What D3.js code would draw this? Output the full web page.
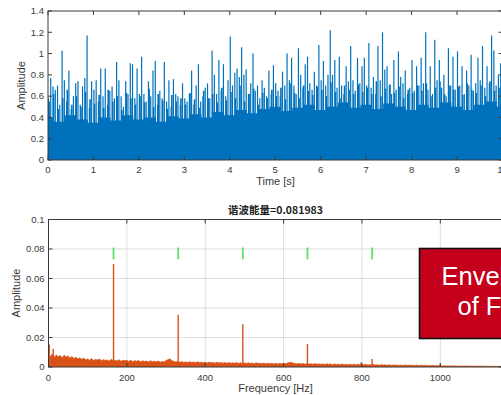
<!DOCTYPE html>
<html><head><meta charset="utf-8">
<script src="https://cdn.jsdelivr.net/npm/d3@7/dist/d3.min.js"></script>
<style>
html,body{margin:0;padding:0;background:#fff;overflow:hidden;}
svg{display:block;font-family:"Liberation Sans",Arial,sans-serif;}
</style></head>
<body><svg id="c" width="501" height="395"></svg>
<script>
// ---------------- DATA ----------------
// Top panel: time signal (peak amplitude per 0.05 s bin, 0..10 s)
const sigStep = 0.05;
const sigPeaks = [
 0.58,0.77,0.69,0.66,0.70,0.52,1.03,0.75,0.55,0.84,0.48,0.60,0.72,0.74,0.52,0.69,0.77,1.17,0.49,0.74,
 0.66,0.75,0.55,0.86,0.60,0.86,0.52,0.65,0.69,0.58,0.92,0.75,0.60,0.50,0.74,0.62,0.91,0.90,0.58,0.86,
 0.62,0.97,0.62,0.55,0.74,0.60,0.84,0.93,0.52,0.65,0.58,0.92,0.55,0.75,0.50,0.76,0.62,0.60,0.52,0.72,
 0.58,0.55,0.62,0.84,0.52,0.70,0.90,0.55,0.60,0.68,0.72,0.58,1.03,0.80,0.62,0.94,0.65,0.90,0.60,0.75,
 1.16,0.70,0.82,0.86,0.78,1.06,0.80,0.85,0.62,0.72,1.00,0.65,0.70,0.58,0.75,0.68,0.60,0.84,0.62,0.89,
 0.72,0.65,0.60,0.83,0.70,1.00,0.75,0.96,0.70,0.62,1.05,0.80,0.68,0.90,0.97,0.72,0.66,0.83,0.70,1.08,
 0.75,0.93,0.70,0.80,1.22,0.80,0.94,0.68,0.97,0.70,0.62,0.88,0.74,1.07,0.75,0.65,0.96,0.72,0.88,0.96,
 0.70,1.10,0.68,0.78,0.62,1.07,0.75,1.20,0.85,0.88,0.70,0.62,0.94,0.66,1.02,0.78,0.72,0.84,0.62,0.68,
 0.94,0.65,0.88,0.70,0.96,0.72,1.20,0.66,0.88,0.62,1.13,0.75,0.94,0.68,0.80,0.60,1.05,0.70,0.97,0.66,
 1.02,0.70,0.88,0.62,0.84,0.70,0.99,0.65,0.72,0.96,0.75,1.07,0.68,0.88,0.72,1.17,1.03,0.70,0.80,0.91
];
// secondary (medium) amplitude per 0.1 s bin
const midStep = 0.1;
const sigMid = [
 0.55,0.62,0.48,0.58,0.66,0.52,0.60,0.50,0.64,0.57,
 0.53,0.61,0.49,0.66,0.55,0.60,0.47,0.63,0.58,0.52,
 0.60,0.54,0.67,0.50,0.62,0.56,0.48,0.61,0.55,0.58,
 0.52,0.63,0.57,0.49,0.65,0.58,0.62,0.54,0.68,0.56,
 0.64,0.58,0.70,0.55,0.62,0.67,0.52,0.63,0.58,0.66,
 0.60,0.68,0.57,0.72,0.63,0.58,0.70,0.65,0.61,0.69,
 0.66,0.60,0.73,0.64,0.58,0.70,0.66,0.62,0.71,0.64,
 0.68,0.62,0.74,0.60,0.67,0.71,0.63,0.69,0.58,0.66,
 0.63,0.70,0.65,0.72,0.60,0.68,0.74,0.62,0.70,0.66,
 0.69,0.61,0.72,0.66,0.63,0.70,0.60,0.74,0.65,0.68
];
// dense (solid) level per 0.25 s
const denseStep = 0.25;
const sigDense = [0.40,0.36,0.42,0.38,0.35,0.40,0.37,0.42,0.38,0.40,0.36,0.41,0.39,0.43,0.40,0.45,0.42,0.47,0.44,0.48,
 0.50,0.46,0.49,0.52,0.47,0.50,0.54,0.49,0.52,0.48,0.53,0.50,0.47,0.52,0.49,0.54,0.50,0.47,0.52,0.55,0.50];
const timeTicks = [0,1,2,3,4,5,6,7,8,9,10];
const ampTicksTop = [0,0.2,0.4,0.6,0.8,1,1.2,1.4];
const ampTickLabelsTop = ["0","0.2","0.4","0.6","0.8","1","1.2","1.4"];

// Bottom panel: envelope spectrum (noise floor per 5 Hz)
const specStep = 5; // Hz
const specFloor = [
 0.0085,0.0072,0.0090,0.0066,0.0082,0.0070,0.0078,0.0062,0.0080,0.0068,0.0075,0.0060,0.0072,0.0058,0.0066,0.0055,0.0062,0.0052,0.0060,0.0050,
 0.0055,0.0046,0.0058,0.0044,0.0052,0.0047,0.0054,0.0042,0.0050,0.0045,0.0048,0.0040,0.0052,0.0043,0.0046,0.0041,0.0049,0.0039,0.0046,0.0042,
 0.0045,0.0038,0.0047,0.0036,0.0043,0.0039,0.0044,0.0035,0.0042,0.0037,0.0040,0.0034,0.0043,0.0036,0.0039,0.0035,0.0041,0.0033,0.0038,0.0034,
 0.0044,0.0050,0.0056,0.0042,0.0038,0.0034,0.0037,0.0032,0.0036,0.0031,0.0035,0.0030,0.0036,0.0031,0.0034,0.0029,0.0035,0.0030,0.0033,0.0029,
 0.0032,0.0027,0.0033,0.0028,0.0031,0.0026,0.0032,0.0027,0.0030,0.0026,0.0031,0.0025,0.0030,0.0026,0.0029,0.0025,0.0030,0.0024,0.0028,0.0025,
 0.0028,0.0023,0.0029,0.0024,0.0027,0.0022,0.0028,0.0023,0.0026,0.0022,0.0027,0.0021,0.0026,0.0022,0.0025,0.0021,0.0026,0.0020,0.0025,0.0021,
 0.0026,0.0022,0.0027,0.0030,0.0032,0.0026,0.0024,0.0021,0.0025,0.0020,0.0024,0.0019,0.0023,0.0020,0.0022,0.0018,0.0023,0.0019,0.0021,0.0018,
 0.0021,0.0017,0.0022,0.0018,0.0020,0.0016,0.0021,0.0017,0.0019,0.0016,0.0020,0.0015,0.0019,0.0016,0.0018,0.0015,0.0019,0.0014,0.0018,0.0015,
 0.0017,0.0014,0.0018,0.0013,0.0016,0.0014,0.0017,0.0013,0.0016,0.0012,0.0016,0.0013,0.0015,0.0012,0.0015,0.0011,0.0014,0.0012,0.0014,0.0011,
 0.0013,0.0011,0.0014,0.0010,0.0013,0.0011,0.0012,0.0010,0.0013,0.0009,0.0012,0.0010,0.0012,0.0009,0.0011,0.0009,0.0012,0.0008,0.0011,0.0009,
 0.0009,0.0007,0.0008,0.0007,0.0008,0.0006,0.0008,0.0006,0.0007,0.0006,0.0007,0.0005,0.0007,0.0006,0.0007,0.0005,0.0006,0.0005,0.0006,0.0005,
 0.0006,0.0005,0.0006,0.0004,0.0005,0.0004,0.0005,0.0004,0.0005,0.0004,0.0005,0.0004,0.0005
];
const peakFreqs = [2,12,166,331,496,661,798,826,1000];
const peakAmps  = [0.0152,0.0122,0.0699,0.0355,0.029,0.0156,0.0032,0.0055,0.0022];
const harmonicFreqs = [166,331,496,661,826];
const harmonicMarkLow = 0.073, harmonicMarkHigh = 0.081;
const freqTicks = [0,200,400,600,800,1000];
const ampTicksBot = [0,0.02,0.04,0.06,0.08,0.1];
const ampTickLabelsBot = ["0","0.02","0.04","0.06","0.08","0.1"];
const titleText = "谐波能量=0.081983";
const boxLines = ["Envelope","of FFT"];

// ---------------- DRAW ----------------
const svg = d3.select("#c");
const blue = "#0072bd", orange = "#d95319", axisCol = "#3a3a3a", txtCol = "#3a3a3a";

const xT = d3.scaleLinear().domain([0,10]).range([48,502.5]);
const yT = d3.scaleLinear().domain([0,1.4]).range([160,11]);
const xB = d3.scaleLinear().domain([0,1160]).range([48.5,503]);
const yB = d3.scaleLinear().domain([0,0.1]).range([367,219.5]);

svg.append("defs").call(d=>{
  d.append("clipPath").attr("id","clipT").append("rect")
   .attr("x",xT(0)).attr("y",yT(1.4)).attr("width",xT(10)-xT(0)).attr("height",yT(0)-yT(1.4));
  d.append("clipPath").attr("id","clipB").append("rect")
   .attr("x",xB(0)).attr("y",yB(0.1)).attr("width",xB(1160)-xB(0)).attr("height",yB(0)-yB(0.1));
});

// ---- top panel ----
const gT = svg.append("g").attr("clip-path","url(#clipT)");
gT.append("path")
  .datum(sigDense)
  .attr("fill",blue)
  .attr("d",d3.area().x((d,i)=>xT(i*denseStep)).y0(yT(0)).y1(d=>yT(d)).curve(d3.curveStep));
gT.selectAll("line.mid").data(sigMid).join("line").attr("class","mid")
  .attr("x1",(d,i)=>xT(i*midStep+0.025)).attr("x2",(d,i)=>xT(i*midStep+0.025))
  .attr("y1",yT(0)).attr("y2",d=>yT(d))
  .attr("stroke",blue).attr("stroke-width",1.6);
gT.selectAll("line.pk").data(sigPeaks).join("line").attr("class","pk")
  .attr("x1",(d,i)=>xT(i*sigStep+0.01)).attr("x2",(d,i)=>xT(i*sigStep+0.01))
  .attr("y1",yT(0)).attr("y2",d=>yT(d))
  .attr("stroke",blue).attr("stroke-width",1.2);

function drawGrid(x, y, xt, yt){
  const x0=x.range()[0], x1=x.range()[1], y0=y.range()[0], y1=y.range()[1];
  const g = svg.append("g");
  g.selectAll("line.gx").data(xt.filter(v=>v>0)).join("line")
    .attr("x1",d=>x(d)).attr("x2",d=>x(d)).attr("y1",y0).attr("y2",y1)
    .attr("stroke","#dedede").attr("stroke-width",1);
  g.selectAll("line.gy").data(yt.filter(v=>v>0)).join("line")
    .attr("y1",d=>y(d)).attr("y2",d=>y(d)).attr("x1",x0).attr("x2",x1)
    .attr("stroke","#dedede").attr("stroke-width",1);
}

function drawFrame(x, y, xt, yt, yLabels, xTickBase){
  const x0=x.range()[0], x1=x.range()[1], y0=y.range()[0], y1=y.range()[1];
  const g = svg.append("g");
  g.append("rect").attr("x",x0).attr("y",y1).attr("width",x1-x0).attr("height",y0-y1)
    .attr("fill","none").attr("stroke",axisCol).attr("stroke-width",1);
  const tl=4;
  g.selectAll("line.tb").data(xt).join("line")
    .attr("x1",d=>x(d)).attr("x2",d=>x(d)).attr("y1",y0).attr("y2",y0-tl).attr("stroke",axisCol);
  g.selectAll("line.tt").data(xt).join("line")
    .attr("x1",d=>x(d)).attr("x2",d=>x(d)).attr("y1",y1).attr("y2",y1+tl).attr("stroke",axisCol);
  g.selectAll("line.tl").data(yt).join("line")
    .attr("y1",d=>y(d)).attr("y2",d=>y(d)).attr("x1",x0).attr("x2",x0+tl).attr("stroke",axisCol);
  g.selectAll("line.tr").data(yt).join("line")
    .attr("y1",d=>y(d)).attr("y2",d=>y(d)).attr("x1",x1).attr("x2",x1-tl).attr("stroke",axisCol);
  g.selectAll("text.xl").data(xt).join("text")
    .attr("x",d=>x(d)).attr("y",xTickBase).attr("text-anchor","middle")
    .attr("font-size",9.5).attr("fill",txtCol).text(d=>String(d));
  g.selectAll("text.yl").data(yt).join("text")
    .attr("x",x0-4).attr("y",d=>y(d)+3.3).attr("text-anchor","end")
    .attr("font-size",9.5).attr("fill",txtCol).text((d,i)=>yLabels[i]);
  return g;
}

drawFrame(xT, yT, timeTicks, ampTicksTop, ampTickLabelsTop, 172.5);
svg.append("text").attr("x",275.5).attr("y",184.5).attr("text-anchor","middle")
  .attr("font-size",11).attr("fill",txtCol).text("Time [s]");
svg.append("text").attr("transform","translate(25,85.5) rotate(-90)").attr("text-anchor","middle")
  .attr("font-size",11).attr("fill",txtCol).text("Amplitude");

// ---- bottom panel ----
drawGrid(xB, yB, freqTicks, ampTicksBot);
const gB = svg.append("g").attr("clip-path","url(#clipB)");
gB.append("path").datum(specFloor)
  .attr("fill",orange).attr("stroke",orange).attr("stroke-width",0.7)
  .attr("d",d3.area().x((d,i)=>xB(i*specStep)).y0(yB(0)).y1(d=>yB(d)));
gB.selectAll("line.sp").data(peakFreqs).join("line")
  .attr("x1",d=>xB(d)).attr("x2",d=>xB(d)).attr("y1",yB(0))
  .attr("y2",(d,i)=>yB(peakAmps[i]))
  .attr("stroke",orange).attr("stroke-width",1.4);
gB.selectAll("line.hm").data(harmonicFreqs).join("line")
  .attr("x1",d=>xB(d)).attr("x2",d=>xB(d))
  .attr("y1",yB(harmonicMarkLow)).attr("y2",yB(harmonicMarkHigh))
  .attr("stroke","#5fe06a").attr("stroke-width",1.8);

drawFrame(xB, yB, freqTicks, ampTicksBot, ampTickLabelsBot, 381);
svg.append("text").attr("x",275.5).attr("y",391.5).attr("text-anchor","middle")
  .attr("font-size",11).attr("fill",txtCol).text("Frequency [Hz]");
svg.append("text").attr("transform","translate(19.5,293) rotate(-90)").attr("text-anchor","middle")
  .attr("font-size",11).attr("fill",txtCol).text("Amplitude");
svg.append("text").attr("x",275.5).attr("y",213.5).attr("text-anchor","middle")
  .attr("font-family","'Noto Sans CJK SC','Liberation Sans',sans-serif")
  .attr("font-size",10.5).attr("font-weight","bold").attr("fill","#222").text(titleText);

// ---- red overlay box ----
const gR = svg.append("g");
gR.append("rect").attr("x",419.5).attr("y",248.5).attr("width",130).attr("height",90)
  .attr("fill","#c4001a").attr("stroke","#111").attr("stroke-width",1.6);
gR.append("text").attr("x",441.5).attr("y",284.5).attr("font-size",25.5)
  .attr("fill","#fff").text(boxLines[0]);
gR.append("text").attr("x",457.5).attr("y",315).attr("font-size",25.5)
  .attr("fill","#fff").text(boxLines[1]);
</script></body></html>
